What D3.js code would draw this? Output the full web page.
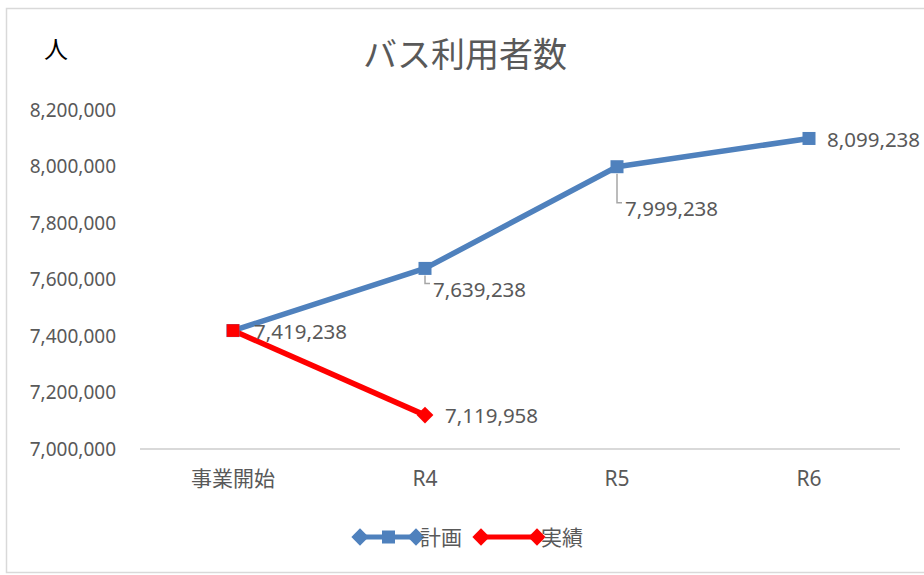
<!DOCTYPE html>
<html>
<head>
<meta charset="utf-8">
<script src="https://cdn.jsdelivr.net/npm/d3@7/dist/d3.min.js"></script>
<style>
  html, body { margin: 0; padding: 0; background: #ffffff; }
  svg { display: block; }
  text { font-family: "Noto Sans", "Noto Sans CJK JP", sans-serif; }
  .jp { font-family: "Noto Sans CJK JP", "Noto Sans", sans-serif; }
</style>
</head>
<body>
<svg id="chart" width="924" height="575"></svg>
<script>
// Categories and series
const categories = ["事業開始", "R4", "R5", "R6"];
const planValues = [7419238, 7639238, 7999238, 8099238];
const actualValues = [7419238, 7119958];
const yTicks = [7000000, 7200000, 7400000, 7600000, 7800000, 8000000, 8200000];
const seriesNames = ["計画", "実績"];

const svg = d3.select("#chart");
const W = 924, H = 575;
const grey = "#595959";
const blue = "#4f81bd";
const red = "#ff0000";
const fmt = d3.format(",");

// Chart area frame
svg.append("rect")
  .attr("x", 6.5).attr("y", 8.5)
  .attr("width", W + 10).attr("height", 564)
  .attr("fill", "#fff").attr("stroke", "#d9d9d9").attr("stroke-width", 1.5);

// Scales
const x = d3.scaleBand().domain(categories).range([137, 905]);
const cx = c => x(c) + x.bandwidth() / 2;
const y = d3.scaleLinear().domain([7000000, 8200000]).range([449, 110]);

// Title and unit
svg.append("text").attr("class", "jp")
  .attr("x", 465).attr("y", 67)
  .attr("text-anchor", "middle")
  .attr("font-size", 34).attr("fill", grey)
  .text("バス利用者数");
svg.append("text").attr("class", "jp")
  .attr("x", 44).attr("y", 58)
  .attr("font-size", 24).attr("fill", "#000")
  .text("人");

// Y axis (labels only)
const yAxis = d3.axisLeft(y).tickValues(yTicks).tickFormat(fmt).tickSize(0).tickPadding(0);
const gy = svg.append("g").attr("transform", "translate(116,0)").call(yAxis);
gy.select(".domain").remove();
gy.selectAll("text").attr("font-size", 19).attr("fill", grey)
  .attr("font-family", "'Noto Sans', sans-serif");

// X axis: baseline and category labels
const xAxis = d3.axisBottom(x).tickSize(0).tickPadding(22);
const gx = svg.append("g").attr("transform", "translate(0,449)").call(xAxis);
gx.select(".domain").attr("stroke", "#d9d9d9").attr("stroke-width", 2)
  .attr("d", `M${x.range()[0] + 3},0H${x.range()[1] - 5}`);
gx.selectAll("text").attr("font-size", 21).attr("fill", grey)
  .attr("font-family", "'Noto Sans', 'Noto Sans CJK JP', sans-serif");

// Lines
const line = d3.line().x((d, i) => cx(categories[i])).y(d => y(d));
svg.append("path").datum(planValues)
  .attr("d", line).attr("fill", "none")
  .attr("stroke", blue).attr("stroke-width", 5.5).attr("stroke-linejoin", "round");
svg.append("path").datum(actualValues)
  .attr("d", line).attr("fill", "none")
  .attr("stroke", red).attr("stroke-width", 5.5).attr("stroke-linejoin", "round");

// Plan markers (squares)
svg.selectAll(".pm").data(planValues).enter().append("rect")
  .attr("x", (d, i) => cx(categories[i]) - 6.5)
  .attr("y", d => y(d) - 6.5)
  .attr("width", 13).attr("height", 13)
  .attr("fill", blue);

// Actual markers (square at the start, diamonds after)
const diamond = d3.symbol().type(d3.symbolDiamond2).size(180);
svg.selectAll(".am").data(actualValues).enter().append("path")
  .attr("d", (d, i) => i === 0 ? d3.symbol().type(d3.symbolSquare).size(160)() : diamond())
  .attr("transform", (d, i) => `translate(${cx(categories[i])},${y(d)})`)
  .attr("fill", red);

// Data labels
const labelSize = 20.5;
function dataLabel(px, py, tx, ty, v, leader) {
  if (leader) {
    svg.append("path")
      .attr("d", `M${px},${py + 7}V${ty - 6}H${tx - 3}`)
      .attr("fill", "none").attr("stroke", "#a6a6a6").attr("stroke-width", 1.5);
  }
  svg.append("text")
    .attr("x", tx).attr("y", ty)
    .attr("dy", "0.35em")
    .attr("font-size", labelSize).attr("fill", grey)
    .text(fmt(v));
}
// Plan labels
dataLabel(cx(categories[0]), y(planValues[0]), cx(categories[0]) + 21, y(planValues[0]) + 1, planValues[0], false);
dataLabel(cx(categories[1]), y(planValues[1]), cx(categories[1]) + 8, y(planValues[1]) + 21, planValues[1], true);
dataLabel(cx(categories[2]), y(planValues[2]), cx(categories[2]) + 8, y(planValues[2]) + 42, planValues[2], true);
dataLabel(cx(categories[3]), y(planValues[3]), cx(categories[3]) + 18, y(planValues[3]) + 1, planValues[3], false);
// Actual label at R4
dataLabel(cx(categories[1]), y(actualValues[1]), cx(categories[1]) + 20, y(actualValues[1]) + 1, actualValues[1], false);

// Legend
const lg = svg.append("g").attr("transform", "translate(0,537)");
// Plan entry: line with diamond ends and square centre
lg.append("line").attr("x1", 360).attr("x2", 416).attr("y1", 0).attr("y2", 0)
  .attr("stroke", blue).attr("stroke-width", 5);
[360, 416].forEach(px => lg.append("path")
  .attr("d", d3.symbol().type(d3.symbolDiamond2).size(190)())
  .attr("transform", `translate(${px},0)`).attr("fill", blue));
lg.append("rect").attr("x", 382).attr("y", -6.5).attr("width", 13).attr("height", 13).attr("fill", blue);
lg.append("text").attr("class", "jp").attr("x", 420).attr("y", 0).attr("dy", "0.36em")
  .attr("font-size", 21).attr("fill", grey).text(seriesNames[0]);
// Actual entry: line with diamond ends
lg.append("line").attr("x1", 481).attr("x2", 537).attr("y1", 0).attr("y2", 0)
  .attr("stroke", red).attr("stroke-width", 5);
[481, 537].forEach(px => lg.append("path")
  .attr("d", d3.symbol().type(d3.symbolDiamond2).size(190)())
  .attr("transform", `translate(${px},0)`).attr("fill", red));
lg.append("text").attr("class", "jp").attr("x", 541).attr("y", 0).attr("dy", "0.36em")
  .attr("font-size", 21).attr("fill", grey).text(seriesNames[1]);
</script>
</body>
</html>
